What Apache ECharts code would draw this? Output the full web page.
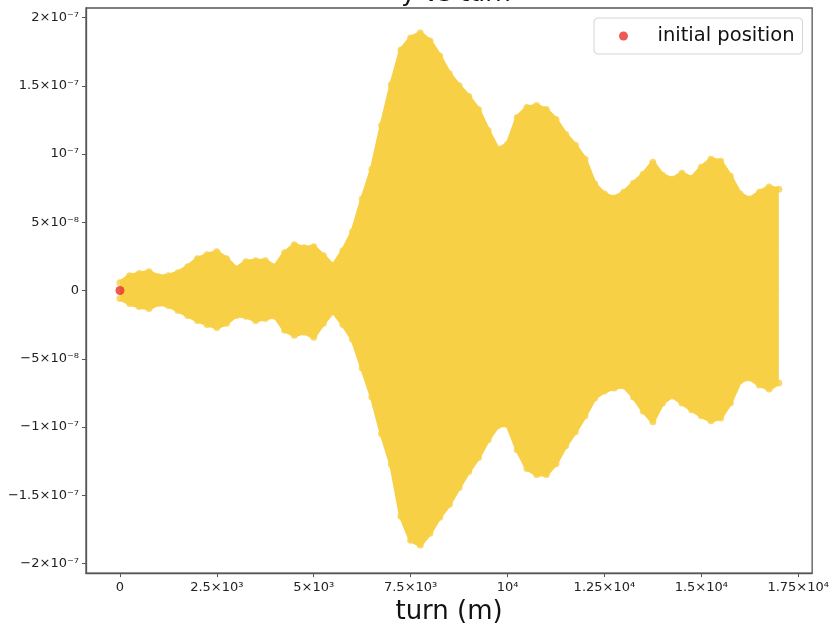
<!DOCTYPE html>
<html>
<head>
<meta charset="utf-8">
<script src="https://cdn.jsdelivr.net/npm/echarts@6/dist/echarts.min.js"></script>
<style>html,body{margin:0;padding:0;background:#fff}#c{width:832px;height:630px}</style>
</head>
<body>
<div id="c"></div>
<script>
// turn values (m) at which the envelope of the point cloud was read
const turns = [0,250,500,750,1000,1250,1500,1750,2000,2250,2500,2750,3000,3250,3500,3750,4000,4250,4500,4750,5000,5250,5500,5750,6000,6250,6500,6750,7000,7250,7500,7750,8000,8250,8500,8750,9000,9250,9500,9750,10000,10250,10500,10750,11000,11250,11500,11750,12000,12250,12500,12750,13000,13250,13500,13750,14000,14250,14500,14750,15000,15250,15500,15750,16000,16250,16500,16750,17000];
// upper edge of y (units of 1e-9)
const upperE9 = [5.8,10.9,12.4,13.8,10.2,10.9,13.1,17.5,23.3,26.2,28.4,23.3,16.0,21.1,21.9,21.9,17.5,27.7,33.5,31.3,32.1,25.5,18.2,29.1,43.0,67.0,88.9,120.9,150.8,176.3,185.1,188.7,182.9,171.9,158.8,150.1,142.1,132.6,117.3,103.5,107.1,126.8,134.1,135.5,132.6,125.3,114.4,106.4,96.2,78.0,70.7,67.8,72.1,78.7,85.2,94.0,84.5,81.6,86.0,82.3,90.3,96.2,94.7,83.8,70.7,67.0,72.1,75.8,74.3];
// lower edge of y (units of 1e-9)
const lowerE9 = [-5.8,-9.5,-11.7,-13.1,-9.5,-10.9,-14.6,-18.2,-21.9,-24.8,-27.0,-24.0,-18.2,-18.9,-21.9,-20.4,-18.9,-29.1,-32.8,-30.6,-34.2,-24.0,-15.3,-24.8,-35.7,-56.8,-78.0,-104.9,-127.5,-165.4,-182.9,-186.5,-177.8,-166.1,-156.6,-144.3,-132.6,-122.4,-109.3,-99.1,-98.4,-116.6,-130.4,-134.8,-134.8,-126.8,-113.7,-103.5,-91.8,-78.7,-73.6,-71.4,-69.9,-78.0,-88.2,-96.2,-82.3,-77.2,-82.3,-87.4,-91.8,-95.4,-93.3,-82.3,-66.3,-64.1,-69.2,-72.1,-67.8];
// initial position
const initialPoint = [0, 0];

const xTickValues = [0,2500,5000,7500,10000,12500,15000,17500];
const xTickLabels = ['0','2.5×10³','5×10³','7.5×10³','10⁴','1.25×10⁴','1.5×10⁴','1.75×10⁴'];
const yTickValues = [-2e-7,-1.5e-7,-1e-7,-5e-8,0,5e-8,1e-7,1.5e-7,2e-7];
const yTickLabels = ['−2×10⁻⁷','−1.5×10⁻⁷','−1×10⁻⁷','−5×10⁻⁸','0','5×10⁻⁸','10⁻⁷','1.5×10⁻⁷','2×10⁻⁷'];

const YEL = '#F7D046';
const upperData = turns.map((t,i)=>[t, upperE9[i]*1e-9]);
const lowerData = turns.map((t,i)=>[t, lowerE9[i]*1e-9]);
const edgeData = upperData.concat(lowerData);

function lookup(vals, labels, v){
  for (let i=0;i<vals.length;i++){ if (Math.abs(vals[i]-v) <= Math.abs(vals[i])*1e-6 + 1e-15) return labels[i]; }
  return '';
}

const chart = echarts.init(document.getElementById('c'), null, {renderer:'canvas'});
chart.setOption({
  animation:false,
  backgroundColor:'#fff',
  textStyle:{fontFamily:'DejaVu Sans'},
  title:{text:'y vs turn', left:396, top:-23, textStyle:{fontSize:25, fontWeight:'normal', color:'#111', fontFamily:'DejaVu Sans'}},
  legend:{
    data:['initial position'], left:594, top:18, icon:'circle',
    itemWidth:40, itemHeight:9, padding:[8,8,8,25],
    borderColor:'#d4d4d4', borderWidth:1, borderRadius:4, backgroundColor:'#fff',
    formatter:'{a|{name}}',
    itemStyle:{color:'#E8302A'},
    textStyle:{fontSize:19.5, color:'#111', fontFamily:'DejaVu Sans', rich:{a:{fontSize:19.5, padding:[0,0,0,9], color:'#111', fontFamily:'DejaVu Sans'}}}
  },
  grid:{left:86, right:19, top:8, bottom:54, show:true, borderColor:'#555', borderWidth:1.3, backgroundColor:'#fff'},
  xAxis:{
    type:'value', min:-876, max:17860,
    name:'turn (m)', nameLocation:'middle', nameGap:25,
    nameTextStyle:{fontSize:26, color:'#111', fontFamily:'DejaVu Sans'},
    splitLine:{show:false},
    axisLine:{show:true, onZero:false, lineStyle:{color:'#555', width:1.3}},
    axisTick:{show:true, length:4, customValues:xTickValues, lineStyle:{color:'#555'}},
    axisLabel:{customValues:xTickValues, margin:8, fontSize:13, color:'#222', formatter:v=>lookup(xTickValues,xTickLabels,v)}
  },
  yAxis:{
    type:'value', min:-2.07e-7, max:2.07e-7,
    splitLine:{show:false},
    axisLine:{show:true, onZero:false, lineStyle:{color:'#555', width:1.3}},
    axisTick:{show:true, length:4, customValues:yTickValues, lineStyle:{color:'#555'}},
    axisLabel:{customValues:yTickValues, margin:7, fontSize:13, color:'#222', formatter:v=>lookup(yTickValues,yTickLabels,v)}
  },
  series:[
    {type:'line', name:'upperEdge', data:upperData, symbol:'none', silent:true,
     lineStyle:{color:YEL, width:4}, areaStyle:{color:YEL, opacity:1, origin:0}, z:1},
    {type:'line', name:'lowerEdge', data:lowerData, symbol:'none', silent:true,
     lineStyle:{color:YEL, width:4}, areaStyle:{color:YEL, opacity:1, origin:3e-9}, z:1},
    {type:'scatter', name:'edge', data:edgeData, symbolSize:7, itemStyle:{color:YEL}, silent:true, z:2},
    {type:'scatter', name:'initial position', data:[initialPoint], symbolSize:9, itemStyle:{color:'#E8302A'}, z:5}
  ]
});
</script>
</body>
</html>
